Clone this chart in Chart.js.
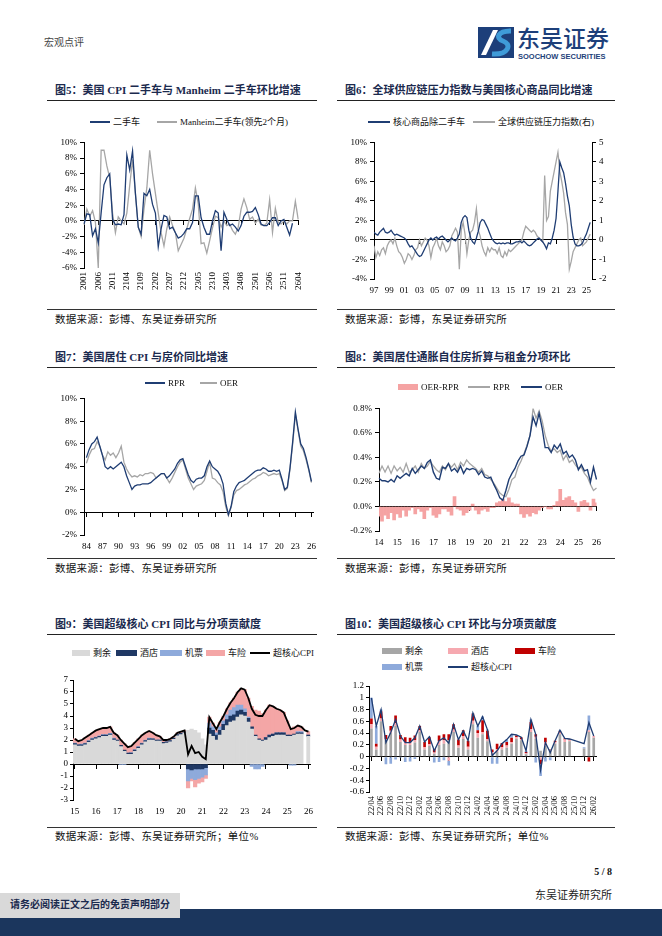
<!DOCTYPE html>
<html><head><meta charset="utf-8">
<script src="https://cdn.jsdelivr.net/npm/chart.js@4.4.1/dist/chart.umd.min.js"></script>
<style>
html,body{margin:0;padding:0;background:#fff;}
body{width:662px;height:936px;position:relative;overflow:hidden;font-family:'Liberation Serif','Noto Sans CJK SC',serif;color:#111;}
.title{position:absolute;font-weight:bold;font-size:11px;color:#1b2a4e;white-space:nowrap;line-height:12px;}
.rule{position:absolute;height:0;border-top:1.5px solid #222;}
.rule2{position:absolute;height:0;border-top:1px solid #333;}
.src{position:absolute;font-size:10.5px;color:#111;white-space:nowrap;line-height:12px;letter-spacing:0.3px;}
.box{position:absolute;}
.lt{position:absolute;font-size:9px;line-height:10px;white-space:nowrap;color:#111;}
.sw{position:absolute;}
</style></head>
<body>
<div class="lt" style="left:44px;top:37px;font-size:10px;line-height:12px;color:#444;">宏观点评</div>
<svg style="position:absolute;left:478px;top:27px" width="36" height="31" viewBox="0 0 36 31">
  <rect width="36" height="31" fill="#1d3f7a"/>
  <path d="M3 28 L15 3 L20 3 L8 28 Z" fill="#fff"/>
  <path d="M14 27 C 31 28, 34 17, 25 14 C 17 11, 20 4, 33 4" stroke="#3f9bd8" stroke-width="5" fill="none"/>
</svg>
<div class="lt" style="left:517px;top:23px;font-size:23px;line-height:28px;color:#1d3f7a;font-family:'Noto Sans CJK SC';font-weight:500;">东吴证券</div>
<div class="lt" style="left:518px;top:52px;font-size:7.5px;line-height:9px;color:#1d3f7a;font-family:'Liberation Sans';font-weight:bold;">SOOCHOW SECURITIES</div>

<!-- Row 1 -->
<div class="title" style="left:55px;top:84px;">图5：美国 CPI 二手车与 Manheim 二手车环比增速</div>
<div class="rule" style="left:47px;top:100px;width:270px;"></div>
<div class="title" style="left:345px;top:84px;">图6：全球供应链压力指数与美国核心商品同比增速</div>
<div class="rule" style="left:337px;top:100px;width:278px;"></div>
<div class="box" style="left:54px;top:134px;width:259px;height:166px;"><canvas id="c5"></canvas></div>
<div class="box" style="left:344px;top:134px;width:268px;height:163px;"><canvas id="c6"></canvas></div>
<div class="rule2" style="left:47px;top:309px;width:270px;"></div>
<div class="rule2" style="left:337px;top:309px;width:278px;"></div>
<div class="src" style="left:55px;top:314px;">数据来源：彭博、东吴证券研究所</div>
<div class="src" style="left:345px;top:314px;">数据来源：彭博，东吴证券研究所</div>

<!-- Row 2 -->
<div class="title" style="left:55px;top:351px;">图7：美国居住 CPI 与房价同比增速</div>
<div class="rule" style="left:47px;top:367px;width:270px;"></div>
<div class="title" style="left:345px;top:351px;">图8：美国居住通胀自住房折算与租金分项环比</div>
<div class="rule" style="left:337px;top:367px;width:278px;"></div>
<div class="box" style="left:54px;top:390px;width:268px;height:163px;"><canvas id="c7"></canvas></div>
<div class="box" style="left:345px;top:400px;width:262px;height:149px;"><canvas id="c8"></canvas></div>
<div class="rule2" style="left:47px;top:558px;width:270px;"></div>
<div class="rule2" style="left:337px;top:558px;width:278px;"></div>
<div class="src" style="left:55px;top:563px;">数据来源：彭博、东吴证券研究所</div>
<div class="src" style="left:345px;top:563px;">数据来源：彭博，东吴证券研究所</div>

<!-- Row 3 -->
<div class="title" style="left:55px;top:618px;">图9：美国超级核心 CPI 同比与分项贡献度</div>
<div class="rule" style="left:47px;top:634px;width:270px;"></div>
<div class="title" style="left:345px;top:618px;">图10：美国超级核心 CPI 环比与分项贡献度</div>
<div class="rule" style="left:337px;top:634px;width:278px;"></div>
<div class="box" style="left:59px;top:672px;width:260px;height:146px;"><canvas id="c9"></canvas></div>
<div class="box" style="left:343px;top:678px;width:265px;height:144px;"><canvas id="c10"></canvas></div>
<div class="rule2" style="left:47px;top:827px;width:270px;"></div>
<div class="rule2" style="left:337px;top:827px;width:278px;"></div>
<div class="src" style="left:55px;top:831px;">数据来源：彭博、东吴证券研究所；单位%</div>
<div class="src" style="left:345px;top:831px;">数据来源：彭博、东吴证券研究所；单位%</div>

<!-- Footer -->
<div class="lt" style="left:560px;top:866px;width:52px;text-align:right;font-size:10px;line-height:12px;font-weight:bold;">5 / 8</div>
<div class="lt" style="left:500px;top:889px;width:112px;text-align:right;font-size:11px;line-height:13px;color:#222;">东吴证券研究所</div>
<div class="sw" style="left:0;top:909px;width:662px;height:27px;background:#1b365d;"></div>
<div class="sw" style="left:0;top:893px;width:180px;height:25px;background:#d9d9d9;"></div>
<div class="lt" style="left:10px;top:899px;font-size:10px;line-height:12px;font-weight:bold;color:#1b2a4e;">请务必阅读正文之后的免责声明部分</div>

<div id="legends"></div>

<script>
// ================= DATA =================
function monthSeries(y, m, step, n, fmt){
  const out=[];
  for(let k=0;k<n;k++){
    const t=(y*12+(m-1))+k*step, yy=Math.floor(t/12), mm=t%12+1;
    const s2=String(yy%100).padStart(2,'0'), m2=String(mm).padStart(2,'0');
    out.push(fmt==='yymm'? s2+m2 : s2+'/'+m2);
  }
  return out;
}
function yearSeries(start, step, n){ const out=[]; for(let k=0;k<n;k++) out.push(+(start+k*step).toFixed(4)); return out; }

// Fig5: monthly 2020-01 .. 2026-04
const f5Cats = monthSeries(2020,1,1,76,'yymm');
const f5UsedCarCPI = [-0.4,0.9,0.8,-1.9,-1.0,-2.8,1.0,4.6,5.5,6.0,
 0.2,-0.5,-0.4,-0.5,0.8,8.4,6.5,8.9,3.5,-0.8,
 -1.7,3.5,3.2,4.0,2.1,1.0,-3.3,-1.0,0.7,0.5,
 -1.0,-0.8,-1.5,-2.2,-2.0,-1.6,-1.0,-1.0,-0.2,3.2,
 3.2,0.4,-0.8,-1.7,-1.7,0.0,1.3,1.0,-3.8,1.1,
 0.2,-0.6,-0.4,-0.8,-1.3,-0.6,0.6,1.1,1.1,1.2,
 1.7,0.8,-0.4,-0.6,-0.6,-0.2,0.4,0.4,-0.6,0.0,
 0.2,-0.8,-1.8,-0.3,null,null];
const f5Manheim = [-0.5,1.5,0.6,1.3,-0.2,-6.0,9.0,9.0,7.0,5.5,
 1.0,-1.5,0.5,0.0,-0.4,1.0,4.5,7.8,3.5,-0.8,
 -2.0,1.5,4.2,9.0,6.0,3.5,1.0,-1.5,-3.2,-1.0,
 0.5,-0.6,-1.5,-3.8,-3.0,-2.2,-1.0,0.3,1.5,4.2,
 2.2,-2.9,-2.8,-4.1,-2.5,-0.9,0.6,0.4,-0.8,0.0,
 -0.6,-0.4,-1.2,-1.7,-0.8,1.5,2.8,1.7,0.2,0.5,
 -0.3,0.2,-0.5,-0.6,-0.3,2.7,-1.5,1.6,-0.2,-0.4,
 0.0,-0.4,0.0,0.0,2.5,0.2];

// Fig6: quarterly 1997Q1 .. 2025Q3
const f6Years = yearSeries(1997,0.25,115);
const f6CoreGoods = [0.8,0.6,0.5,0.8, 1.0,1.2,0.8,0.7, 0.8,1.0,0.7,0.5, 0.6,0.5,0.4,0.3,
 0.2,0.0,-0.4,-0.7, -0.6,-0.9,-1.2,-1.5, -1.7,-1.6,-1.2,-0.8, -0.4,0.0,0.2,0.0,
 0.2,0.3,0.1,0.3, 0.4,0.2,0.0,-0.2, 0.0,0.2,0.0,-0.1, 0.2,0.6,1.8,2.3,
 2.5,2.3,1.0,0.2, -0.2,-0.4,0.2,0.9, 1.8,2.1,2.0,1.6, 1.2,0.7,0.2,-0.1,
 -0.3,-0.4,-0.3,-0.4, -0.3,-0.4,-0.3,-0.3, -0.4,-0.4,-0.3,-0.2, -0.2,-0.1,-0.3,-0.1,
 -0.3,-0.5,-0.6,-0.5, -0.3,-0.1,0.1,0.2, 0.0,-0.2,-0.5,-0.9, -0.3,-0.4,0.2,1.0,
 2.2,5.0,8.0,7.4, 6.9,5.8,4.5,3.5, 1.6,0.3,-0.4,-0.6, -0.6,-0.5,-0.3,0.2,
 0.6,1.2,1.8];
const f6GSCPI = [-0.3,-0.9,-0.6,-0.8, -0.5,-0.4,-0.7,-0.3, -0.1,0.0,-0.2,0.1, -0.3,-0.6,-0.7,-0.9,
 -1.2,-1.0,-0.7,-0.8, -1.0,-0.8,-0.5,-0.4, 0.0,-0.3,-0.1,0.1, 0.0,-0.3,-0.9,-0.4,
 -0.2,0.1,-0.3,-0.5, -0.1,-0.3,-0.6,-0.5, -0.3,0.2,0.4,0.6, 0.4,-1.5,0.5,0.9,
 0.3,-0.7,0.0,0.4, 0.5,0.9,1.6,0.5, 0.2,-0.3,-0.6,-0.8, -0.4,-0.6,-0.4,-0.5,
 -0.5,-0.7,-0.4,-0.8, -0.9,-0.6,-0.8,-0.5, -0.6,-0.5,-0.4,-0.3, -0.2,-0.1,0.0,0.4,
 0.7,0.6,0.5,0.4, 0.5,0.4,0.2,0.1, 0.0,-0.1,3.3,1.0, 1.2,2.5,3.0,3.5,
 4.0,4.5,3.5,3.0, 2.4,1.4,0.8,-1.5, -1.1,-0.6,-0.4,-0.2, 0.0,0.1,-0.3,-0.2,
 -0.1,0.1,0.3];
const f6TickYears = [1997,1999,2001,2003,2005,2007,2009,2011,2013,2015,2017,2019,2021,2023,2025];
const f6TickLabels = ['97','99','01','03','05','07','09','11','13','15','17','19','21','23','25'];
const f6ZeroTicks = [1997,2003,2009,2015,2021];

// Fig7: half-yearly 1984 .. 2026
const f7Years = yearSeries(1984,0.5,85);
const f7RPR = [4.8,5.5, 6.0,6.2, 6.6,5.8, 5.0,4.0, 3.8,4.0, 3.8,4.0, 4.2,4.4, 4.0,3.2, 2.6,2.0, 2.3,2.4,
 2.4,2.5, 2.5,2.5, 2.6,2.8, 3.0,3.2, 3.4,3.4, 3.0,3.2, 3.5,3.8, 4.3,4.6, 4.7,4.0, 3.3,2.8,
 2.6,2.9, 3.0,3.0, 3.2,4.0, 4.5,4.0, 3.8,3.6, 3.2,2.5, 0.8,-0.2, 0.5,1.8, 2.3,2.6, 2.7,2.8,
 3.0,3.2, 3.4,3.6, 3.7,3.7, 3.9,3.8, 3.6,3.6, 3.7,3.6, 3.7,2.9, 2.0,2.2, 3.9,6.2, 8.8,7.3,
 6.0,5.6, 4.8,3.8, 2.7];
const f7OER = [4.3,5.0, 5.5,5.6, 6.2,5.8, 5.0,4.6, 5.3,5.0, 5.2,4.8, 5.2,5.8, 4.4,3.8, 3.4,3.1, 3.2,3.1,
 3.3,3.2, 3.4,3.4, 3.5,3.4, 3.0,3.2, 3.4,3.4, 3.0,2.6, 3.0,3.5, 4.0,4.4, 4.6,3.8, 3.0,2.5,
 2.0,2.3, 2.4,2.5, 2.8,3.6, 4.4,3.0, 2.9,2.6, 2.4,1.8, 0.5,-0.3, 0.4,1.5, 1.9,2.0, 2.2,2.4,
 2.5,2.7, 2.9,3.0, 3.2,3.3, 3.5,3.4, 3.2,3.3, 3.4,3.3, 3.4,2.8, 1.9,2.1, 3.8,6.0, 8.6,7.2,
 5.8,5.4, 4.6,3.7, 2.6];
const f7TickYears = [1984,1987,1990,1993,1996,1999,2002,2005,2008,2011,2014,2017,2020,2023,2026];
const f7TickLabels = ['84','87','90','93','96','99','02','05','08','11','14','17','20','23','26'];

// Fig8: bi-monthly 2014-01 .. 2026-01
const f8Cats = monthSeries(2014,1,2,73,'yy/mm');
const f8OER = [0.23,0.21,0.21,0.20,0.22,0.20, 0.25,0.23,0.25,0.27,0.25,0.31, 0.27,0.30,0.33,0.31,0.36,0.38,
 0.28,0.23,0.22,0.32,0.31,0.35, 0.29,0.31,0.28,0.33,0.27,0.31, 0.30,0.31,0.30,0.26,0.29,0.24,
 0.23,0.24,0.18,0.13,0.07,0.05, 0.13,0.22,0.27,0.31,0.37,0.41, 0.42,0.49,0.58,0.73,0.66,0.76,
 0.64,0.48,0.48,0.44,0.50,0.47, 0.51,0.43,0.45,0.40,0.42,0.38, 0.30,0.34,0.29,0.30,0.20,0.32, 0.22];
const f8RPR = [0.27,0.33,0.28,0.33,0.27,0.33, 0.29,0.32,0.28,0.35,0.28,0.30, 0.33,0.28,0.35,0.31,0.33,0.37,
 0.33,0.30,0.28,0.33,0.30,0.35, 0.32,0.35,0.30,0.36,0.33,0.38, 0.35,0.33,0.31,0.28,0.31,0.26,
 0.25,0.22,0.19,0.15,0.11,0.09, 0.08,0.14,0.22,0.24,0.32,0.37, 0.43,0.50,0.58,0.80,0.72,0.78,
 0.70,0.58,0.50,0.45,0.47,0.44, 0.46,0.38,0.42,0.36,0.38,0.34, 0.31,0.32,0.27,0.24,0.18,0.13, 0.15];
const f8Spread = [-0.08,-0.12,-0.07,-0.10,-0.05,-0.11, -0.06,-0.09,-0.03,-0.08,-0.03,-0.01, -0.06,-0.02,-0.04,-0.10,-0.03,-0.01,
 -0.07,-0.09,-0.06,-0.02,-0.02,-0.04, -0.07,0.08,-0.02,-0.03,-0.07,-0.05, -0.03,0.02,-0.03,-0.06,-0.03,-0.02,
 -0.04,-0.01,-0.01,0.03,0.04,0.06, 0.04,0.07,0.03,0.02,0.02,-0.06, -0.09,-0.06,-0.08,-0.05,-0.06,-0.03,
 -0.01,0.00,-0.02,-0.02,0.01,0.04, 0.14,0.05,0.07,0.08,0.05,0.03, -0.04,0.04,0.05,0.03,-0.03,0.06, 0.03];

// Fig9: bi-monthly 2015-01 .. 2026-01
const f9Cats = monthSeries(2015,1,2,67,'yy/mm');
const f9Supercore = [2.1,1.9,2.0,2.2,2.4,2.6, 2.8,2.9,3.0,3.0,3.1,2.6, 2.4,2.0,1.7,1.4,1.5,1.8,
 2.1,2.4,2.6,2.75,2.6,2.4, 2.3,2.0,2.0,2.1,2.3,2.6, 2.7,2.8,0.8,1.5,0.9,1.0,
 0.6,0.4,3.9,3.4,2.9,3.5, 4.0,4.6,5.1,5.5,6.0,6.3, 6.2,5.5,4.6,4.1,4.0,4.0,
 4.5,4.9,4.8,4.6,4.5,4.3, 3.6,2.9,3.0,3.2,3.1,2.8, 2.7];
const f9Rest = [1.6,1.5,1.5,1.6,1.8,2.0, 2.1,2.2,2.3,2.3,2.4,2.0, 1.9,1.45,1.05,0.8,0.8,1.05,
 1.3,1.6,1.85,2.0,2.0,1.9, 1.9,1.7,1.75,1.85,2.05,2.35, 2.45,2.6,2.8,2.9,2.8,2.6,
 2.1,1.6,2.5,2.3,2.0,2.4, 2.8,3.2,3.5,3.6,3.9,4.1, 4.0,3.5,2.9,2.3,2.0,1.9,
 2.0,2.2,2.3,2.4,2.4,2.4, 2.3,2.3,2.4,2.5,2.5,null, 2.3];
const f9Hotel = [0.1,0.1,0.1,0.1,0.1,0.1, 0.1,0.1,0.1,0.1,0.1,0.1, 0.1,0.1,0.1,0.1,0.1,0.1,
 0.1,0.1,0.1,0.1,0.1,0.1, 0.1,0.1,0.1,0.1,0.1,0.1, 0.1,0.05,-0.4,-0.5,-0.4,-0.4,
 -0.4,-0.3,0.5,0.5,0.4,0.4, 0.5,0.5,0.5,0.5,0.5,0.4, 0.3,0.3,0.2,0.1,0.1,0.1,
 0.2,0.2,0.2,0.2,0.2,0.2, 0.1,0.1,0.1,0.1,0.1,null, 0.1];
const f9Airfare = [0.05,0.0,0.05,0.05,0.05,0.05, 0.05,0.05,0.05,0.05,0.05,0.05, 0.0,-0.05,-0.05,0.0,0.05,0.05,
 0.05,0.05,0.05,0.05,0.0,0.0, 0.0,0.0,0.0,0.0,0.0,0.0, 0.0,0.0,-1.0,-0.7,-0.9,-0.8,
 -0.7,-0.6,0.4,0.3,0.2,0.3, 0.3,0.4,0.5,0.6,0.5,0.4, 0.3,0.1,-0.2,-0.4,-0.4,-0.2,
 0.0,0.0,0.0,0.0,0.0,0.0, 0.0,-0.1,-0.1,0.1,0.1,null, 0.0];
const f9AutoIns = [0.35,0.3,0.35,0.45,0.45,0.45, 0.55,0.55,0.55,0.55,0.55,0.45, 0.4,0.45,0.55,0.5,0.55,0.6,
 0.65,0.65,0.6,0.6,0.5,0.4, 0.3,0.2,0.15,0.15,0.15,0.15, 0.15,0.15,-0.6,-0.2,-0.6,-0.4,
 -0.4,-0.3,0.5,0.3,0.3,0.4, 0.4,0.5,0.6,0.8,1.1,1.4, 1.6,1.6,1.7,2.1,2.3,2.2,
 2.3,2.5,2.3,2.0,1.9,1.7, 1.2,0.6,0.6,0.5,0.4,null, 0.3];

// Fig10: monthly 2022-04 .. 2026-02
const f10Cats = monthSeries(2022,4,1,47,'yy/mm');
const f10Supercore = [1.0,0.52,0.80,0.24,0.41,0.63,0.35,0.24,0.24,0.32,0.52,0.25,0.34,0.10,0.27,0.32,0.23,0.55,0.29,0.44,
 0.27,0.74,0.52,0.68,0.46,0.02,0.10,0.22,0.29,0.38,0.37,0.33,0.10,0.63,0.38,-0.23,0.24,0.07,0.27,0.45,
 0.31,0.30,null,null,0.22,0.58,0.35];
const f10Rest = [0.48,0.12,0.6,0.28,0.4,0.52,0.25,0.2,0.2,0.24,0.42,0.12,0.18,0.05,0.2,0.22,0.28,0.42,0.15,0.3,
 0.12,0.55,0.32,0.38,0.26,0.05,0.08,0.12,0.15,0.22,0.3,0.28,0.04,0.42,0.3,0.1,0.18,0.1,0.22,0.38,
 0.25,0.26,null,null,0.14,0.42,0.32];
const f10Hotel = [0.07,0.05,0.05,0.02,0.04,0.05,0.04,0.05,0.04,0.04,0.03,0.04,0.03,0.02,0.06,0.06,-0.07,0.04,0.04,0.05,
 0.05,0.06,0.08,0.04,0.04,0.03,0.05,0.04,0.04,0.03,0.03,0.02,0.02,0.05,0.04,-0.05,0.06,0.02,0.03,0.03,
 0.04,0.03,null,null,0.0,0.03,0.03];
const f10AutoIns = [0.1,0.05,0.12,0.07,0.08,0.13,0.08,0.08,0.08,0.08,0.07,0.09,0.12,0.06,0.1,0.1,0.1,0.09,0.1,0.1,
 0.1,0.12,0.05,0.2,0.14,0.04,0.09,0.07,0.06,0.07,0.03,0.03,0.02,0.12,0.04,-0.08,0.08,0.01,0.02,0.02,
 0.02,0.01,null,null,0.0,-0.08,0.0];
const f10Airfare = [0.35,0.3,0.03,-0.13,-0.12,-0.05,-0.02,-0.09,-0.08,-0.04,0.0,0.0,0.01,-0.1,-0.09,-0.06,-0.08,0.0,0.0,-0.01,
 0.0,0.01,0.07,0.06,0.02,-0.12,-0.12,-0.01,0.04,0.06,0.01,0.0,0.02,0.04,-0.1,-0.2,-0.08,-0.06,0.0,0.02,
 0.0,0.0,null,null,0.02,0.25,0.0];

// ================= STYLE =================
const NAVY='#1f3d73', GRAY='#a6a6a6';
Chart.defaults.font.family="'Liberation Serif','Noto Sans CJK SC',serif";
Chart.defaults.font.size=9;
Chart.defaults.color='#000';
Chart.defaults.animation=false;
Chart.defaults.maintainAspectRatio=false;
Chart.defaults.plugins.legend.display=false;
Chart.defaults.plugins.tooltip.enabled=false;
Chart.defaults.elements.point.radius=0;
Chart.defaults.elements.line.tension=0;

function yAxis(o){
  return {type:'linear', position:o.position||'left', min:o.min, max:o.max,
    grid:{drawOnChartArea:false, drawTicks:true, tickLength:o.tl||4, color:'#000', lineWidth:1},
    border:{display:true, color:'#000', width:1},
    ticks:{stepSize:o.step, autoSkip:false, callback:o.fmt, padding:o.pad||3, color:'#000', font:{size:9}},
    afterFit:(s)=>{s.width=o.width;}};
}
function xLabelAxis(o){
  const a={type:o.type||'category', position:'bottom', offset:!!o.offset, stacked:!!o.stacked,
    grid:{display:false, drawTicks:false}, border:{display:false},
    ticks:{autoSkip:false, maxRotation:o.rot||0, minRotation:o.rot||0, padding:o.pad, color:'#000', font:{size:o.fs||9}, callback:o.cb},
    afterFit:(s)=>{s.height=o.height;}};
  if(o.type==='linear'){ a.min=o.min; a.max=o.max; a.afterBuildTicks=(s)=>{s.ticks=o.tickValues.map(v=>({value:v}));}; }
  return a;
}
function xZeroAxis(o){
  const a={type:o.type||'category', position:{y:0}, offset:!!o.offset,
    grid:{display:true, drawOnChartArea:false, drawTicks:true, tickLength:o.tl||4, offset:false, lineWidth:1,
      color: o.show ? (ctx)=>(o.show(ctx.index)?'#000':'rgba(0,0,0,0)') : '#000'},
    border:{display:true, color:'#000', width:1},
    ticks:{display:false, autoSkip:false}};
  if(o.type==='linear'){ a.min=o.min; a.max=o.max; a.afterBuildTicks=(s)=>{s.ticks=o.tickValues.map(v=>({value:v}));}; }
  return a;
}
const pct0 = v=>v+'%';

// Fig5
new Chart(document.getElementById('c5'),{type:'line',
  data:{labels:f5Cats, datasets:[
    {data:f5UsedCarCPI, borderColor:NAVY, borderWidth:1.3, xAxisID:'x', yAxisID:'y'},
    {data:f5Manheim, borderColor:GRAY, borderWidth:1.3, xAxisID:'x', yAxisID:'y'}]},
  options:{layout:{padding:{top:8,right:8,left:0,bottom:0}},
    scales:{
      x:xLabelAxis({rot:90, pad:4, height:32, cb:(v,i)=> i%5===0?f5Cats[i]:''}),
      x0:xZeroAxis({show:i=>i%5===0}),
      y:yAxis({min:-6,max:10,step:2,fmt:pct0,width:30})}}});

// Fig6
new Chart(document.getElementById('c6'),{type:'line',
  data:{labels:f6Years, datasets:[
    {data:f6CoreGoods, borderColor:NAVY, borderWidth:1.3, xAxisID:'x', yAxisID:'y'},
    {data:f6GSCPI, borderColor:GRAY, borderWidth:1.3, xAxisID:'x', yAxisID:'y1'}]},
  options:{layout:{padding:{top:8,right:2,left:0,bottom:0}},
    scales:{
      x:xLabelAxis({type:'linear', min:1997, max:2025.74, tickValues:f6TickYears, pad:6, height:18,
        cb:(v)=>{const k=f6TickYears.indexOf(v); return k>=0?f6TickLabels[k]:'';}}),
      x0:xZeroAxis({type:'linear', min:1997, max:2025.74, tickValues:f6ZeroTicks}),
      y:yAxis({min:-4,max:10,step:2,fmt:pct0,width:30}),
      y1:yAxis({position:'right',min:-2,max:5,step:1,fmt:v=>String(v),width:18})}}});

// Fig7
new Chart(document.getElementById('c7'),{type:'line',
  data:{labels:f7Years, datasets:[
    {data:f7RPR, borderColor:NAVY, borderWidth:1.3, xAxisID:'x', yAxisID:'y'},
    {data:f7OER, borderColor:GRAY, borderWidth:1.3, xAxisID:'x', yAxisID:'y'}]},
  options:{layout:{padding:{top:8,right:8,left:0,bottom:0}},
    scales:{
      x:xLabelAxis({type:'linear', min:1983.55, max:2026.3, tickValues:f7TickYears, pad:6, height:18,
        cb:(v)=>{const k=f7TickYears.indexOf(v); return k>=0?f7TickLabels[k]:'';}}),
      x0:xZeroAxis({type:'linear', min:1983.55, max:2026.3, tickValues:f7TickYears}),
      y:yAxis({min:-2,max:10,step:2,fmt:pct0,width:30})}}});

// Fig8
new Chart(document.getElementById('c8'),{type:'bar',
  data:{labels:f8Cats, datasets:[
    {type:'line', data:f8OER, borderColor:NAVY, borderWidth:1.4, xAxisID:'x', yAxisID:'y'},
    {type:'line', data:f8RPR, borderColor:GRAY, borderWidth:1.3, xAxisID:'x', yAxisID:'y'},
    {type:'bar', data:f8Spread, backgroundColor:'#f5a3a3', barPercentage:1, categoryPercentage:1, xAxisID:'x', yAxisID:'y'}]},
  options:{layout:{padding:{top:8,right:8,left:0,bottom:0}},
    scales:{
      x:xLabelAxis({pad:6, height:18, cb:(v,i)=> f8Cats[i].endsWith('/01')?f8Cats[i].slice(0,2):''}),
      x0:xZeroAxis({show:i=> f8Cats[i].endsWith('/01')}),
      y:yAxis({min:-0.2,max:0.8,step:0.2,fmt:v=>v.toFixed(1)+'%',width:34})}}});

// Fig9
new Chart(document.getElementById('c9'),{type:'bar',
  data:{labels:f9Cats, datasets:[
    {type:'line', data:f9Supercore, borderColor:'#000', borderWidth:1.8, stack:'line', xAxisID:'x', yAxisID:'y'},
    {data:f9Rest, backgroundColor:'#d9d9d9', stack:'bars', barPercentage:1, categoryPercentage:1, xAxisID:'x', yAxisID:'y'},
    {data:f9Hotel, backgroundColor:'#1f3864', stack:'bars', barPercentage:1, categoryPercentage:1, xAxisID:'x', yAxisID:'y'},
    {data:f9Airfare, backgroundColor:'#8eaadb', stack:'bars', barPercentage:1, categoryPercentage:1, xAxisID:'x', yAxisID:'y'},
    {data:f9AutoIns, backgroundColor:'#f4a6a6', stack:'bars', barPercentage:1, categoryPercentage:1, xAxisID:'x', yAxisID:'y'}]},
  options:{layout:{padding:{top:8,right:6,left:0,bottom:0}},
    scales:{
      x:xLabelAxis({offset:true, stacked:true, pad:6, height:18, cb:(v,i)=> f9Cats[i].endsWith('/01')?f9Cats[i].slice(0,2):''}),
      x0:xZeroAxis({offset:true, show:i=> f9Cats[i].endsWith('/01')}),
      y:Object.assign(yAxis({min:-3,max:7,step:1,fmt:v=>String(v),width:14,tl:3,pad:2}),{stacked:true})}}});

// Fig10
new Chart(document.getElementById('c10'),{type:'bar',
  data:{labels:f10Cats, datasets:[
    {type:'line', data:f10Supercore, borderColor:NAVY, borderWidth:1.3, stack:'line', spanGaps:true, xAxisID:'x', yAxisID:'y'},
    {data:f10Rest, backgroundColor:'#a6a6a6', stack:'bars', barPercentage:0.55, categoryPercentage:1, xAxisID:'x', yAxisID:'y'},
    {data:f10Hotel, backgroundColor:'#f6a9b0', stack:'bars', barPercentage:0.55, categoryPercentage:1, xAxisID:'x', yAxisID:'y'},
    {data:f10AutoIns, backgroundColor:'#c00000', stack:'bars', barPercentage:0.55, categoryPercentage:1, xAxisID:'x', yAxisID:'y'},
    {data:f10Airfare, backgroundColor:'#8eaadb', stack:'bars', barPercentage:0.55, categoryPercentage:1, xAxisID:'x', yAxisID:'y'}]},
  options:{layout:{padding:{top:8,right:6,left:0,bottom:0}},
    scales:{
      x:xLabelAxis({offset:true, stacked:true, rot:90, pad:4, height:30, fs:8.5, cb:(v,i)=> i%2===0?f10Cats[i]:''}),
      x0:xZeroAxis({offset:true, show:i=> i%2===0}),
      y:Object.assign(yAxis({min:-0.6,max:1.2,step:0.2,fmt:v=>String(Math.round(v*10)/10),width:26,tl:3,pad:2}),{stacked:true})}}});

// ================= LEGENDS (HTML) =================
const legendItems = [
  {y:122, x:90, w:20, kind:'line', color:NAVY, text:'二手车'},
  {y:122, x:157, w:20, kind:'line', color:GRAY, text:'Manheim二手车(领先2个月)'},
  {y:122, x:368, w:22, kind:'line', color:NAVY, text:'核心商品除二手车'},
  {y:122, x:473, w:22, kind:'line', color:GRAY, text:'全球供应链压力指数(右)'},
  {y:383, x:145, w:20, kind:'line', color:NAVY, text:'RPR'},
  {y:383, x:200, w:17, kind:'line', color:GRAY, text:'OER'},
  {y:387, x:398, w:20, kind:'box', color:'#f5a3a3', text:'OER-RPR'},
  {y:387, x:468, w:22, kind:'line', color:GRAY, text:'RPR'},
  {y:387, x:521, w:21, kind:'line', color:NAVY, text:'OER'},
  {y:653, x:72, w:18, kind:'box', color:'#d9d9d9', text:'剩余'},
  {y:653, x:116, w:21, kind:'box', color:'#1f3864', text:'酒店'},
  {y:653, x:160, w:22, kind:'box', color:'#8eaadb', text:'机票'},
  {y:653, x:206, w:19, kind:'box', color:'#f4a6a6', text:'车险'},
  {y:653, x:250, w:20, kind:'line', lw:2.5, color:'#000', text:'超核心CPI'},
  {y:651, x:382, w:20, kind:'box', color:'#a6a6a6', text:'剩余'},
  {y:651, x:448, w:20, kind:'box', color:'#f6a9b0', text:'酒店'},
  {y:651, x:515, w:20, kind:'box', color:'#c00000', text:'车险'},
  {y:667, x:382, w:20, kind:'box', color:'#8eaadb', text:'机票'},
  {y:667, x:448, w:20, kind:'line', color:NAVY, text:'超核心CPI'}
];
const lg = document.getElementById('legends');
legendItems.forEach(it=>{
  const sw=document.createElement('div'); sw.className='sw';
  const h = it.kind==='box'?6:(it.lw||1.3);
  sw.style.cssText=`left:${it.x}px;top:${it.y-h/2}px;width:${it.w}px;height:${h}px;background:${it.color};`;
  lg.appendChild(sw);
  const t=document.createElement('div'); t.className='lt';
  t.style.cssText=`left:${it.x+it.w+3}px;top:${it.y-5}px;`;
  t.textContent=it.text; lg.appendChild(t);
});
</script>
</body></html>
